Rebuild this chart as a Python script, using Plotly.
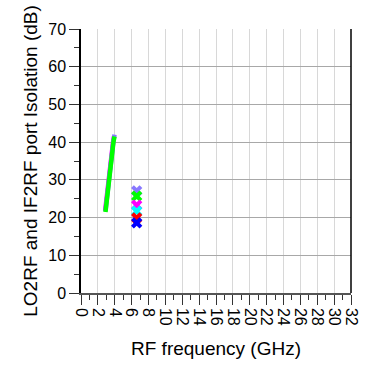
import plotly.graph_objects as go

# Swept-curve data (GHz, dB)
curve_freq = [2.9, 3.0, 3.16, 3.35, 3.54, 3.7, 3.85, 3.97]
curve_green = [21.5, 23.6, 26.9, 31.3, 35.7, 38.2, 40.1, 41.5]
curve_purple = [21.7, 23.8, 27.1, 31.5, 35.9, 38.5, 40.5, 42.0]
curve_magenta = [21.8, 24.0, 27.3, 31.6, 35.9, 38.3, 40.2, 41.6]

# Single-point data at 6.6 GHz
point_freq = 6.6
point_names = ["purple", "green", "magenta", "cyan", "red", "blue"]
point_values = [27.1, 25.7, 23.3, 21.7, 19.9, 18.6]
point_colors = ["#8878ff", "#00ff00", "#ff00ff", "#00ffff", "#ff0000", "#0000ff"]

x_ticks = list(range(0, 33, 2))
y_ticks = list(range(0, 71, 10))

fig = go.Figure()
fig.add_trace(go.Scatter(x=[f - 0.04 for f in curve_freq], y=curve_magenta, mode="lines",
                         line=dict(color="#ff00ff", width=4.5), showlegend=False))
fig.add_trace(go.Scatter(x=curve_freq, y=curve_purple, mode="lines",
                         line=dict(color="#8878ff", width=4.5), showlegend=False))
fig.add_trace(go.Scatter(x=curve_freq, y=curve_green, mode="lines",
                         line=dict(color="#00ff00", width=4.5), showlegend=False))
for name, v, c in zip(point_names, point_values, point_colors):
    fig.add_trace(go.Scatter(x=[point_freq], y=[v], mode="markers", name=name,
                             marker=dict(symbol="x", size=10, color=c, line=dict(width=0)),
                             showlegend=False))

font = dict(family="Liberation Sans, Arial, sans-serif", size=16, color="#000")
fig.update_layout(
    width=369, height=365,
    margin=dict(l=81, r=9, t=29, b=72),
    paper_bgcolor="white", plot_bgcolor="white",
    font=font,
    xaxis=dict(range=[0, 32], tickvals=x_ticks, ticktext=[str(t) for t in x_ticks],
               tickangle=90, ticks="outside", ticklen=10, tickcolor="#333",
               showgrid=True, gridcolor="#d8d8d8", gridwidth=1,
               showline=True, linecolor="#555", linewidth=1.5, zeroline=False,
               minor=dict(dtick=1, tick0=0, ticks="outside", ticklen=5, tickcolor="#333", showgrid=False),
               title=dict(text="RF frequency (GHz)", standoff=17), tickfont=font),
    yaxis=dict(range=[0, 70], tickvals=y_ticks, ticks="outside", ticklen=10, tickcolor="#333",
               showgrid=True, gridcolor="#a8a8a8", gridwidth=1,
               showline=True, linecolor="#000", linewidth=1.5, zeroline=False,
               minor=dict(dtick=5, tick0=0, ticks="outside", ticklen=5, tickcolor="#333", showgrid=False),
               title=dict(text="LO2RF and IF2RF port Isolation (dB)", standoff=6), tickfont=font),
    shapes=[dict(type="line", xref="paper", yref="paper", x0=1, x1=1, y0=0, y1=1,
                 line=dict(color="#000", width=1.5))],
)
fig.write_html("out.html")
